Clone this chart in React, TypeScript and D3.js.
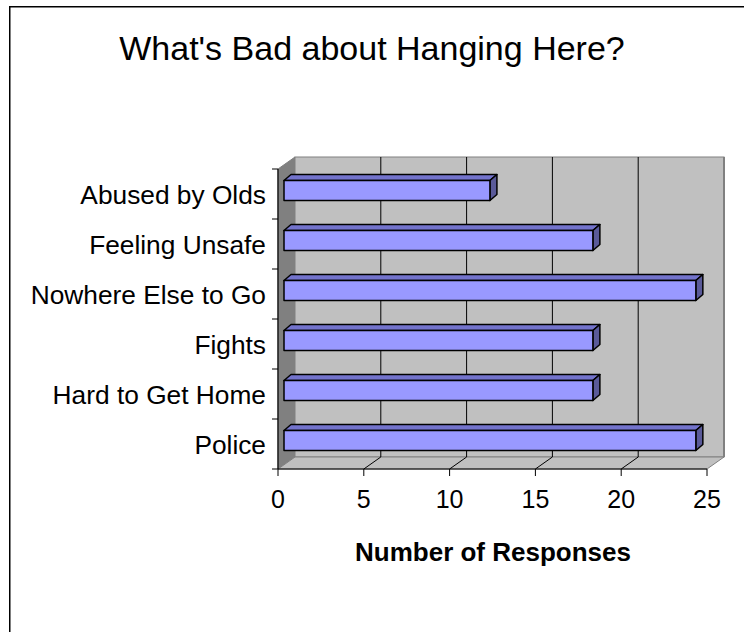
import React from "react";
import * as d3 from "d3";

const categories = ["Abused by Olds", "Feeling Unsafe", "Nowhere Else to Go", "Fights", "Hard to Get Home", "Police"];
const responses = [12, 18, 24, 18, 18, 24];
const xTicks = [0, 5, 10, 15, 20, 25];
const title = "What's Bad about Hanging Here?";
const xTitle = "Number of Responses";

const FONT = "Arial, 'Liberation Sans', sans-serif";

export default function App() {
  const W = 744, H = 632;
  const x0 = 278, x1 = 707, yTop = 169, yBot = 469;
  const dX = 17, dY = -12; // wall depth
  const x = d3.scaleLinear().domain([0, 25]).range([x0, x1]);
  const y = d3.scaleBand<string>().domain(categories).range([yTop, yBot]).padding(0);
  const bw = y.bandwidth();

  const bOff = 6; // bar front offset into depth
  const bDx = 7, bDy = -6; // bar depth
  const barH = 20;

  const gridVals = xTicks.filter((v) => v > 0 && v < 25);

  return (
    <svg width={W} height={H} style={{ position: "absolute", left: 0, top: 0, background: "#fff" }}>
      <rect x={9.75} y={6.75} width={W + 20} height={H + 20} fill="#fff" stroke="#000" strokeWidth={1.5} />
      <text x={372} y={60} textAnchor="middle" fontFamily={FONT} fontSize={34} fill="#000">{title}</text>

      {/* side wall */}
      <polygon points={`${x0},${yTop} ${x0 + dX},${yTop + dY} ${x0 + dX},${yBot + dY} ${x0},${yBot}`} fill="#808080" stroke="#808080" />
      {/* back wall */}
      <rect x={x0 + dX} y={yTop + dY} width={x1 - x0} height={yBot - yTop} fill="#C0C0C0" stroke="#808080" strokeWidth={1} />
      <line x1={x1 + dX} y1={yTop + dY} x2={x1 + dX} y2={yBot + dY} stroke="#808080" strokeWidth={2} />
      {/* floor */}
      <polygon points={`${x0},${yBot} ${x1},${yBot} ${x1 + dX},${yBot + dY} ${x0 + dX},${yBot + dY}`} fill="#C0C0C0" stroke="#808080" strokeWidth={1} />

      {/* gridlines */}
      {gridVals.map((v) => (
        <g key={v}>
          <line x1={x(v) + dX} y1={yTop + dY} x2={x(v) + dX} y2={yBot + dY} stroke="#000" strokeWidth={1} />
          <line x1={x(v) + dX} y1={yBot + dY} x2={x(v)} y2={yBot} stroke="#000" strokeWidth={1} />
        </g>
      ))}

      {/* axes */}
      <line x1={x0} y1={yTop} x2={x0} y2={yBot} stroke="#000" strokeWidth={1.2} />
      <line x1={x0} y1={yBot} x2={x1} y2={yBot} stroke="#000" strokeWidth={1.2} />
      {[...categories.map((c) => y(c) as number), yBot].map((yy, i) => (
        <line key={i} x1={x0 - 6} y1={yy} x2={x0} y2={yy} stroke="#000" strokeWidth={1} />
      ))}
      {xTicks.map((v) => (
        <g key={v}>
          <line x1={x(v)} y1={yBot} x2={x(v)} y2={yBot + 7} stroke="#000" strokeWidth={1} />
          <text x={x(v)} y={508} textAnchor="middle" fontFamily={FONT} fontSize={25} fill="#000">{v}</text>
        </g>
      ))}

      {/* bars */}
      {categories.map((c, i) => {
        const bt = (y(c) as number) + 11.5;
        const bb = bt + barH;
        const bx0 = x(0) + bOff;
        const bx1 = x(responses[i]) + bOff;
        return (
          <g key={c} stroke="#000" strokeWidth={1.5} strokeLinejoin="round">
            <polygon points={`${bx0},${bt} ${bx1},${bt} ${bx1 + bDx},${bt + bDy} ${bx0 + bDx},${bt + bDy}`} fill="#7373CC" />
            <polygon points={`${bx1},${bt} ${bx1 + bDx},${bt + bDy} ${bx1 + bDx},${bb + bDy} ${bx1},${bb}`} fill="#5A5A99" />
            <rect x={bx0} y={bt} width={bx1 - bx0} height={barH} fill="#9999FF" />
          </g>
        );
      })}

      {/* category labels */}
      {categories.map((c) => (
        <text key={c} x={266} y={(y(c) as number) + bw / 2 + 9.5} textAnchor="end" fontFamily={FONT} fontSize={26.3} fill="#000">{c}</text>
      ))}

      <text x={493} y={561} textAnchor="middle" fontFamily={FONT} fontSize={26} fontWeight="bold" fill="#000">{xTitle}</text>
    </svg>
  );
}
